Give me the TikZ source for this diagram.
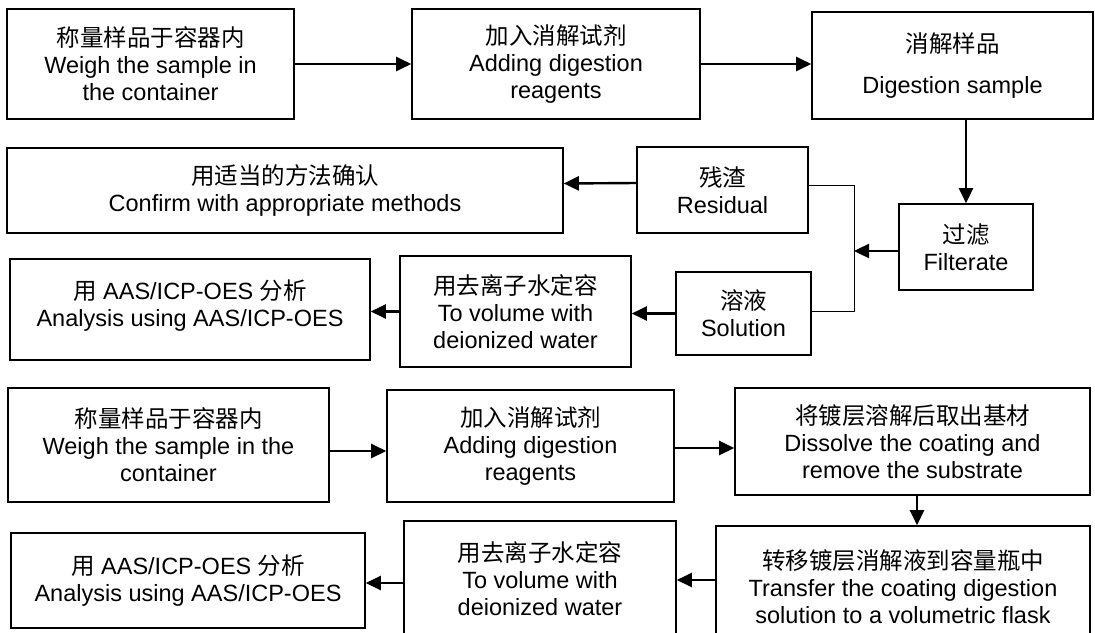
\documentclass[tikz,border=0pt]{standalone}
\usepackage{fontspec}
\setmainfont{Liberation Sans}
\newfontfamily\cjk{Noto Sans CJK SC}
\usetikzlibrary{arrows.meta}
\usetikzlibrary{positioning}
\tikzset{box/.style = {draw, line width = 1.6pt, align = center, inner sep = 0,
                       font = \fontsize{23.5}{27}\selectfont}}
\tikzset{arr/.style = {line width = 2.4pt, -{Triangle[length = 15pt, width = 14pt]}}}
\tikzset{link/.style = {line width = 1pt}}

\begin{document}
\begin{tikzpicture}[x = 1pt, y = -1pt]
    \useasboundingbox (0, 0) rectangle (1095, 632);

    % first method
    \node [box, minimum width = 287, minimum height = 110] (weigh) at (150.5, 64)
      {{\cjk 称量样品于容器内}\\Weigh the sample in\\the container};
    \node [box, minimum width = 288, minimum height = 110] (addreag) at (556, 64)
      {{\cjk 加入消解试剂}\\Adding digestion\\reagents};
    \node [box, minimum width = 281, minimum height = 107] (digest) at (952.5, 65.5)
      {{\cjk 消解样品}\\[14pt]Digestion sample};
    \node [box, minimum width = 134, minimum height = 86] (filt) at (966, 247)
      {{\cjk 过滤}\\Filterate};
    \node [box, minimum width = 171, minimum height = 86] (resid) at (722.5, 190)
      {{\cjk 残渣}\\Residual};
    \node [box, minimum width = 556, minimum height = 85] (confirm) at (285, 190.5)
      {{\cjk 用适当的方法确认}\\Confirm with appropriate methods};
    \node [box, minimum width = 135, minimum height = 83] (solution) at (743.5, 313.5)
      {{\cjk 溶液}\\Solution};
    \node [box, minimum width = 231, minimum height = 111] (volume) at (515.5, 311.5)
      {{\cjk 用去离子水定容}\\To volume with\\deionized water};
    \node [box, minimum width = 360, minimum height = 101] (analysis) at (190, 309.5)
      {{\cjk 用} AAS/ICP-OES {\cjk 分析}\\Analysis using AAS/ICP-OES\\[-14pt]\mbox{}};
    \coordinate (split) at (854, 251);

    \draw [arr] (weigh.east) -- (addreag.west);
    \draw [arr] (addreag.east) -- (addreag.east -| digest.west);
    \draw [arr] (digest.south -| filt.north) -- (filt.north);
    \draw [arr] ([yshift = -4pt]filt.west) -- (split);
    \draw [link] ([yshift = 5pt]resid.east) -| (split) |- ([yshift = 2pt]solution.east);
    \draw [arr] ([yshift = 7pt]resid.west) -- ([yshift = 7pt]confirm.east);
    \draw [arr] (solution.west) -- (solution.west -| volume.east);
    \draw [arr] (volume.west) -- (volume.west -| analysis.east);

    % second method
    \node [box, minimum width = 321, minimum height = 114] (weighb) at (168.5, 445)
      {{\cjk 称量样品于容器内}\\Weigh the sample in the\\container};
    \node [box, minimum width = 287, minimum height = 112] (addreagb) at (530.5, 446)
      {{\cjk 加入消解试剂}\\Adding digestion\\reagents};
    \node [box, minimum width = 355, minimum height = 107] (dissolve) at (912.5, 441.5)
      {{\cjk 将镀层溶解后取出基材}\\Dissolve the coating and\\remove the substrate};
    \node [box, minimum width = 374, minimum height = 122] (transfer) at (903, 587)
      {{\cjk 转移镀层消解液到容量瓶中}\\Transfer the coating digestion\\solution to a volumetric flask};
    \node [box, minimum width = 272, minimum height = 116] (volumeb) at (540, 579)
      {{\cjk 用去离子水定容}\\To volume with\\deionized water};
    \node [box, minimum width = 354, minimum height = 95] (analysisb) at (188, 580.5)
      {{\cjk 用} AAS/ICP-OES {\cjk 分析}\\Analysis using AAS/ICP-OES};

    \draw [arr] ([yshift = -6pt]weighb.east) -- ([yshift = -6pt]weighb.east -| addreagb.west);
    \draw [arr] ([yshift = -2pt]addreagb.east) -- ([yshift = -2pt]addreagb.east -| dissolve.west);
    \draw [arr] (dissolve.south -| transfer.north) ++(14, 0) coordinate (dropb)
      -- (dropb |- transfer.north);
    \draw [arr] ([yshift = 7pt]transfer.west) -- ([yshift = 7pt]transfer.west -| volumeb.east);
    \draw [arr] ([yshift = -4pt]volumeb.west) -- ([yshift = -4pt]volumeb.west -| analysisb.east);
  \end{tikzpicture}
\end{document}
